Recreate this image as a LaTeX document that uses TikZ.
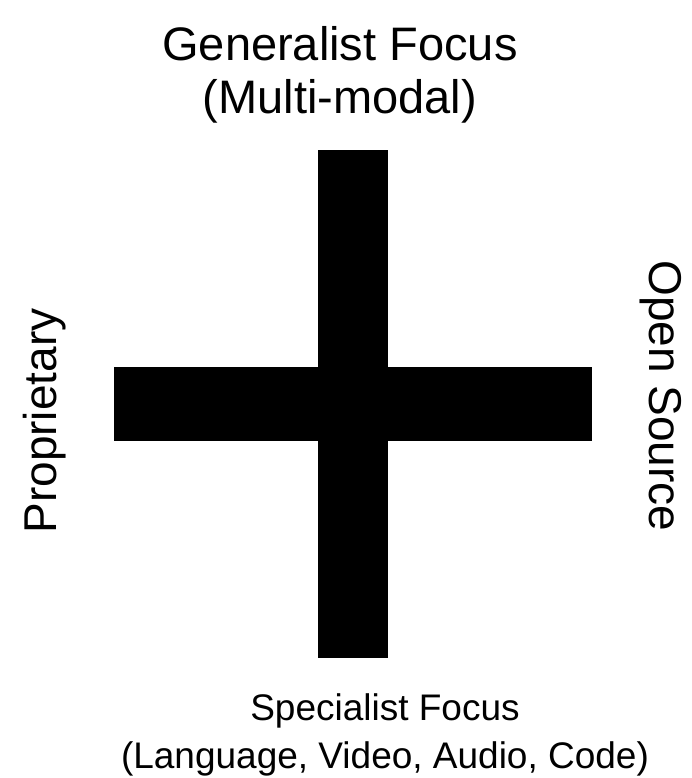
\documentclass[tikz,border=0pt]{standalone}
\usepackage{fontspec}
\setmainfont{Liberation Sans}
\usepackage{tikz}
\usetikzlibrary{positioning}

\begin{document}
\begin{tikzpicture}[
  x=1pt, y=-1pt,
  big/.style={font=\fontsize{47}{53}\selectfont, align=center, inner sep=0pt},
  small/.style={font=\fontsize{37}{48}\selectfont, align=center, inner sep=0pt},
  side/.style={font=\fontsize{46}{48}\selectfont, inner sep=0pt},
  bar/.style={fill=black, draw=none}
]
\useasboundingbox (0,0) rectangle (692,778);
% cross
\fill[bar] (318,150) rectangle (388,658);
\fill[bar] (114,367) rectangle (592,441);
% axis labels
\node[big] (gen) at (340,75) {Generalist Focus\\(Multi-modal)};
\node[small] (spec) at (385,735) {Specialist Focus\\(Language, Video, Audio, Code)};
\node[side, rotate=90] (prop) at (45,421) {Proprietary};
\node[side, rotate=-90] (open) at (661,396) {Open Source};
\end{tikzpicture}
\end{document}
